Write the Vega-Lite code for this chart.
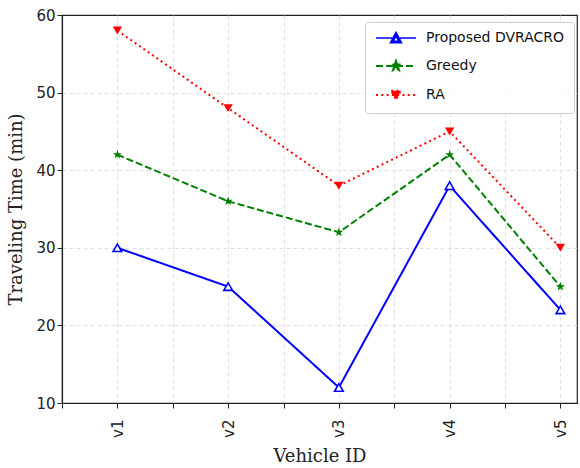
{
  "$schema": "https://vega.github.io/schema/vega-lite/v6.json",
  "width": 515,
  "height": 388,
  "autosize": "none",
  "padding": {"left": 62, "top": 15, "right": 3, "bottom": 65},
  "background": "white",
  "config": {
    "view": {"stroke": "#222", "strokeWidth": 1.2},
    "axis": {
      "domainColor": "#222",
      "domainWidth": 1.2,
      "tickColor": "#222",
      "tickSize": 5,
      "tickWidth": 1,
      "labelFont": "DejaVu Sans",
      "labelFontSize": 15,
      "labelColor": "#222",
      "titleFont": "DejaVu Serif",
      "titleFontSize": 18,
      "titleFontWeight": "normal",
      "titleColor": "#222",
      "gridColor": "#d8d8d8",
      "gridDash": [4, 3],
      "gridWidth": 0.8
    }
  },
  "data": {
    "values": [
      {"vid": 1, "series": "Proposed DVRACRO", "time": 30},
      {"vid": 2, "series": "Proposed DVRACRO", "time": 25},
      {"vid": 3, "series": "Proposed DVRACRO", "time": 12},
      {"vid": 4, "series": "Proposed DVRACRO", "time": 38},
      {"vid": 5, "series": "Proposed DVRACRO", "time": 22},
      {"vid": 1, "series": "Greedy", "time": 42},
      {"vid": 2, "series": "Greedy", "time": 36},
      {"vid": 3, "series": "Greedy", "time": 32},
      {"vid": 4, "series": "Greedy", "time": 42},
      {"vid": 5, "series": "Greedy", "time": 25},
      {"vid": 1, "series": "RA", "time": 58},
      {"vid": 2, "series": "RA", "time": 48},
      {"vid": 3, "series": "RA", "time": 38},
      {"vid": 4, "series": "RA", "time": 45},
      {"vid": 5, "series": "RA", "time": 30}
    ]
  },
  "encoding": {
    "x": {
      "field": "vid",
      "type": "quantitative",
      "scale": {"domain": [0.5, 5.15], "nice": false, "zero": false},
      "axis": {
        "title": "Vehicle ID",
        "values": [0.5, 1, 1.5, 2, 2.5, 3, 3.5, 4, 4.5, 5],
        "labelExpr": "datum.value % 1 === 0 ? 'v' + datum.value : ''",
        "labelAngle": 270,
        "labelPadding": 11,
        "titlePadding": 10,
        "grid": true,
        "gridOpacity": {"condition": {"test": "datum.value === 0.5", "value": 0}, "value": 1}
      }
    },
    "y": {
      "field": "time",
      "type": "quantitative",
      "scale": {"domain": [10, 60], "nice": false, "zero": false},
      "axis": {
        "title": "Traveling Time (min)",
        "values": [10, 20, 30, 40, 50, 60],
        "titlePadding": 10,
        "grid": true,
        "gridOpacity": {"condition": {"test": "datum.value === 10 || datum.value === 60", "value": 0}, "value": 1}
      }
    },
    "color": {
      "field": "series",
      "type": "nominal",
      "sort": ["Proposed DVRACRO", "Greedy", "RA"],
      "scale": {"domain": ["Proposed DVRACRO", "Greedy", "RA"], "range": ["#0000ff", "#008000", "#ff0000"]},
      "legend": {
        "title": null,
        "orient": "none",
        "legendX": 303,
        "legendY": 7,
        "fillColor": "rgba(255,255,255,0.85)",
        "strokeColor": "#cccccc",
        "cornerRadius": 3,
        "padding": 9,
        "labelFont": "DejaVu Sans",
        "labelFontSize": 14,
        "labelColor": "#111",
        "symbolSize": 100,
        "labelOffset": 38,
        "rowPadding": 11,
        "encode": {
          "symbols": {
            "update": {
              "shape": {"signal": "datum.value === 'Proposed DVRACRO' ? 'M-1,0L2.2,0M3.8,0L7,0M1.9,0.95L3,-1.1L4.1,0.95ZM2.45,0.65L3.55,0.65L3,-0.45Z' : datum.value === 'Greedy' ? 'M-1,0L7,0M3,-1L3.235,-0.324L3.951,-0.309L3.38,0.124L3.588,0.809L3,0.4L2.412,0.809L2.62,0.124L2.049,-0.309L2.765,-0.324Z' : 'M-1,0L7,0M2.05,-0.85L3.95,-0.85L3,0.95Z'"},
              "fill": {"signal": "datum.value === 'Proposed DVRACRO' ? '#ffffff' : datum.value === 'Greedy' ? '#008000' : '#ff0000'"},
              "fillOpacity": {"value": 1},
              "strokeDash": {"signal": "datum.value === 'Proposed DVRACRO' ? [] : datum.value === 'Greedy' ? [7, 3] : [2, 3]"},
              "strokeWidth": {"signal": "datum.value === 'Proposed DVRACRO' ? 1.6 : 2"},
              "opacity": {"value": 1}
            }
          }
        }
      }
    }
  },
  "layer": [
    {
      "mark": {"type": "line", "strokeWidth": 2},
      "encoding": {
        "strokeDash": {
          "field": "series",
          "type": "nominal",
          "scale": {"domain": ["Proposed DVRACRO", "Greedy", "RA"], "range": [[1, 0], [7, 3], [2, 3.3]]},
          "legend": null
        }
      }
    },
    {
      "transform": [{"filter": "datum.series === 'Proposed DVRACRO'"}],
      "mark": {"type": "point", "shape": "triangle-up", "filled": false, "fill": "#ffffff", "strokeWidth": 1.6, "opacity": 1, "size": 75}
    },
    {
      "transform": [{"filter": "datum.series === 'Greedy'"}],
      "mark": {"type": "point", "shape": "M0,-1L0.235,-0.324L0.951,-0.309L0.38,0.124L0.588,0.809L0,0.4L-0.588,0.809L-0.38,0.124L-0.951,-0.309L-0.235,-0.324Z", "filled": true, "strokeWidth": 1, "opacity": 1, "size": 90}
    },
    {
      "transform": [{"filter": "datum.series === 'RA'"}],
      "mark": {"type": "point", "shape": "triangle-down", "filled": true, "opacity": 1, "size": 85}
    }
  ]
}
